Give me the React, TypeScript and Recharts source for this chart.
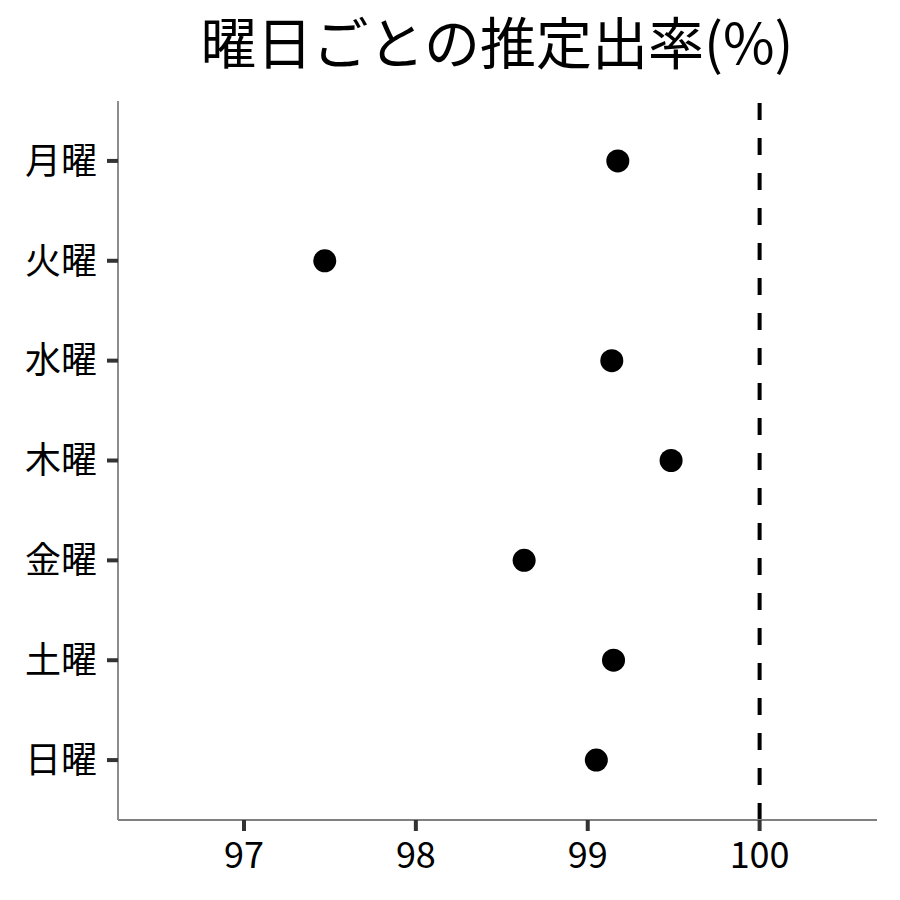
import React from "react";
import { ScatterChart, Scatter, XAxis, YAxis, ReferenceLine } from "recharts";

const days = ["月曜", "火曜", "水曜", "木曜", "金曜", "土曜", "日曜"];
const rates = [99.175, 97.47, 99.14, 99.485, 98.63, 99.15, 99.05];
const xTicks = [97, 98, 99, 100];
const yTicks = [1, 2, 3, 4, 5, 6, 7];
const title = "曜日ごとの推定出率(%)";
const refValue = 100;

const data = days.map((d, i) => ({ day: d, idx: i + 1, rate: rates[i] }));

const FONT = "'Noto Sans CJK JP', 'Noto Sans', sans-serif";

const Dot = (props: any) => <circle cx={props.cx} cy={props.cy} r={11.5} fill="#000" />;

export default function App() {
  return (
    <div style={{ position: "absolute", left: 0, top: 0, width: 900, height: 900, background: "#fff", fontFamily: FONT }}>
      <ScatterChart width={900} height={900} margin={{ top: 101, right: 23, left: 0, bottom: 0 }}>
        <XAxis
          type="number"
          dataKey="rate"
          domain={[96.267, 100.683]}
          ticks={xTicks}
          allowDataOverflow
          height={80}
          tickSize={11}
          tickMargin={11}
          axisLine={{ stroke: "#808080", strokeWidth: 1.8 }}
          tickLine={{ stroke: "#333", strokeWidth: 4 }}
          tick={{ fill: "#000", fontSize: 36, fontFamily: FONT }}
        />
        <YAxis
          type="number"
          dataKey="idx"
          domain={[0.4, 7.6]}
          reversed
          ticks={yTicks}
          interval={0}
          tickFormatter={(v: number) => days[v - 1] ?? ""}
          width={118}
          tickSize={11}
          tickMargin={10}
          axisLine={{ stroke: "#808080", strokeWidth: 1.8 }}
          tickLine={{ stroke: "#333", strokeWidth: 4 }}
          tick={{ fill: "#000", fontSize: 36, fontFamily: FONT }}
        />
        <ReferenceLine x={refValue} stroke="#000" strokeWidth={4} strokeDasharray="17 18" />
        <Scatter data={data} shape={Dot} isAnimationActive={false} />
      </ScatterChart>
      <svg width={900} height={100} style={{ position: "absolute", left: 0, top: 0, pointerEvents: "none" }}>
        <text x={497} y={64} textAnchor="middle" fontSize={56} fontFamily={FONT} fill="#000">
          {title}
        </text>
      </svg>
    </div>
  );
}
